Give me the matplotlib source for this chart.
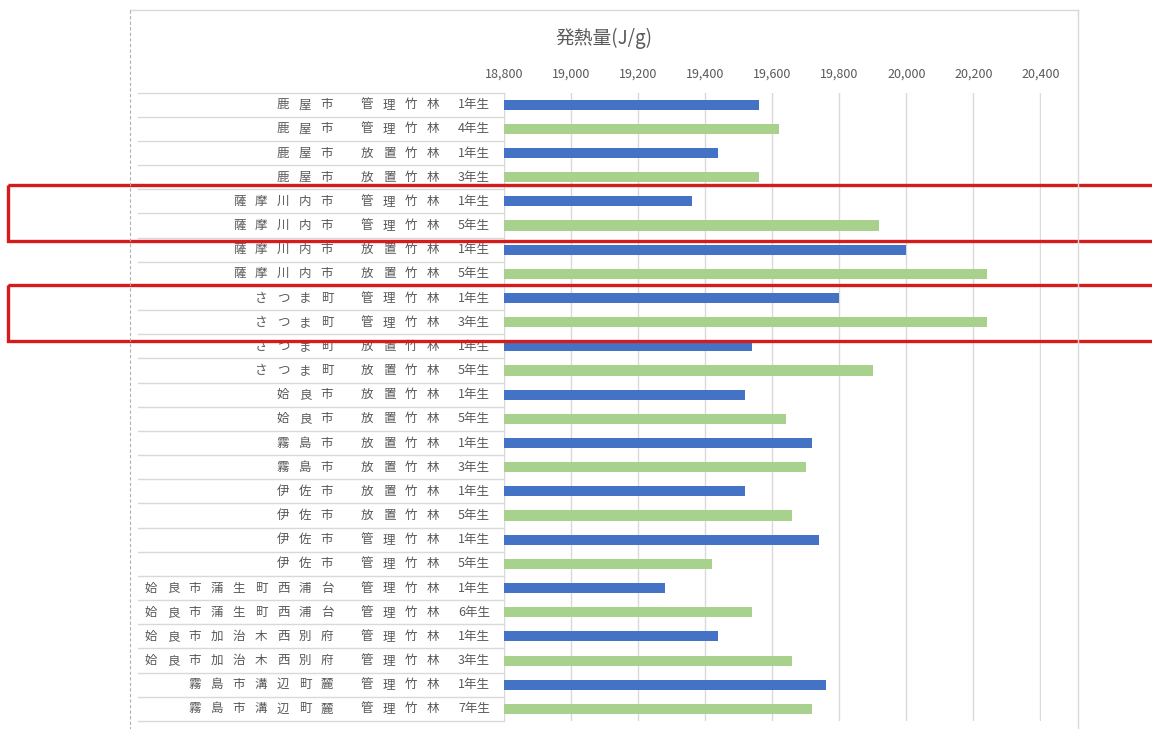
import numpy as np
import matplotlib
matplotlib.use('Agg')
import matplotlib.pyplot as plt
import matplotlib.transforms as mtransforms
from matplotlib.patches import Rectangle
from matplotlib.lines import Line2D

plt.rcParams['font.family'] = ['Noto Sans CJK JP', 'DejaVu Sans']

# category levels, top row first
CITY = (['鹿屋市'] * 4 + ['薩摩川内市'] * 4 + ['さつま町'] * 4 + ['姶良市'] * 2
        + ['霧島市'] * 2 + ['伊佐市'] * 4 + ['姶良市蒲生町西浦台'] * 2
        + ['姶良市加治木西別府'] * 2 + ['霧島市溝辺町麓'] * 2)
STAND = (['管理竹林'] * 2 + ['放置竹林'] * 2 + ['管理竹林'] * 2 + ['放置竹林'] * 2
         + ['管理竹林'] * 2 + ['放置竹林'] * 2 + ['放置竹林'] * 6 + ['管理竹林'] * 8)
AGE = [1, 4, 1, 3, 1, 5, 1, 5, 1, 3, 1, 5, 1, 5, 1, 3, 1, 5, 1, 5, 1, 6, 1, 3, 1, 7]

# calorific value (J/g)
HEAT = [19560, 19620, 19440, 19560, 19360, 19920, 20000, 20240, 19800, 20240,
        19540, 19900, 19520, 19640, 19720, 19700, 19520, 19660, 19740, 19420,
        19280, 19540, 19440, 19660, 19760, 19720]

XTICKS = [18800, 19000, 19200, 19400, 19600, 19800, 20000, 20200, 20400]

# rows to box in red: (first row, last row, pad above, pad below)
HIGHLIGHT = [(4, 5, 0.69, 0.62), (8, 9, 0.52, 0.79)]

BLUE = '#4472C4'
GREEN = '#A9D18E'
GRID = '#d9d9d9'
TXT = '#595959'

W, H = 1152, 729
fig = plt.figure(figsize=(W / 100, H / 100), dpi=100)


def fx(px):
    return px / W


def fy(py):
    return 1 - py / H


ax = fig.add_axes([fx(503.7), fy(721), fx(1040.5) - fx(503.7), fy(92.6) - fy(721)])

n = len(HEAT)
ypos = np.arange(n)
colors = [BLUE if a == 1 else GREEN for a in AGE]
ax.barh(ypos, HEAT, height=0.42, color=colors, zorder=2)

ax.set_xlim(XTICKS[0], XTICKS[-1])
ax.set_ylim(n - 0.5, -0.5)
ax.set_xticks(XTICKS)
ax.set_xticklabels([f'{v:,}' for v in XTICKS])
ax.xaxis.tick_top()
ax.tick_params(axis='x', length=0, pad=8.5, labelsize=9, labelcolor=TXT)
ax.set_yticks([])
ax.grid(axis='x', color=GRID, lw=1, zorder=0)
ax.set_axisbelow(True)
for s in ax.spines.values():
    s.set_visible(False)

# x in figure units, y in row units
trans = mtransforms.blended_transform_factory(fig.transFigure, ax.transData)

# multi-level category labels, characters spread out like the sheet
pitch = 22
for i in range(n):
    ax.text(fx(490), i, f'{AGE[i]}年生', transform=trans, ha='right', va='center',
            fontsize=9, color=TXT)
    for k, ch in enumerate(STAND[i]):
        ax.text(fx(367 + pitch * k), i, ch, transform=trans, ha='center',
                va='center', fontsize=9, color=TXT)
    nc = len(CITY[i])
    for k, ch in enumerate(CITY[i]):
        ax.text(fx(327 - pitch * (nc - 1 - k)), i, ch, transform=trans,
                ha='center', va='center', fontsize=9, color=TXT)

for b in np.arange(n + 1) - 0.5:
    ax.add_line(Line2D([fx(138), fx(503.7)], [b, b], transform=trans,
                       color=GRID, lw=1, clip_on=False))

# chart frame
fig.add_artist(Line2D([fx(130), fx(1078)], [fy(10), fy(10)], color=GRID, lw=1))
fig.add_artist(Line2D([fx(1078), fx(1078)], [fy(10), fy(729)], color=GRID, lw=1))
fig.add_artist(Line2D([fx(130), fx(130)], [fy(10), fy(729)], color='#b0b0b0',
                      lw=0.8, ls=(0, (3, 2))))

fig.text(fx(604), fy(38), '発熱量(J/g)', ha='center', va='center', fontsize=13.5,
         color=TXT)

for r0, r1, pad_top, pad_bot in HIGHLIGHT:
    top = r0 - pad_top
    ax.add_patch(Rectangle((fx(8), top), fx(1170) - fx(8), (r1 + pad_bot) - top,
                           transform=trans, fill=False, ec='#d41c1c', lw=2.4,
                           clip_on=False, zorder=5))

fig.savefig('out.png', dpi=100)
